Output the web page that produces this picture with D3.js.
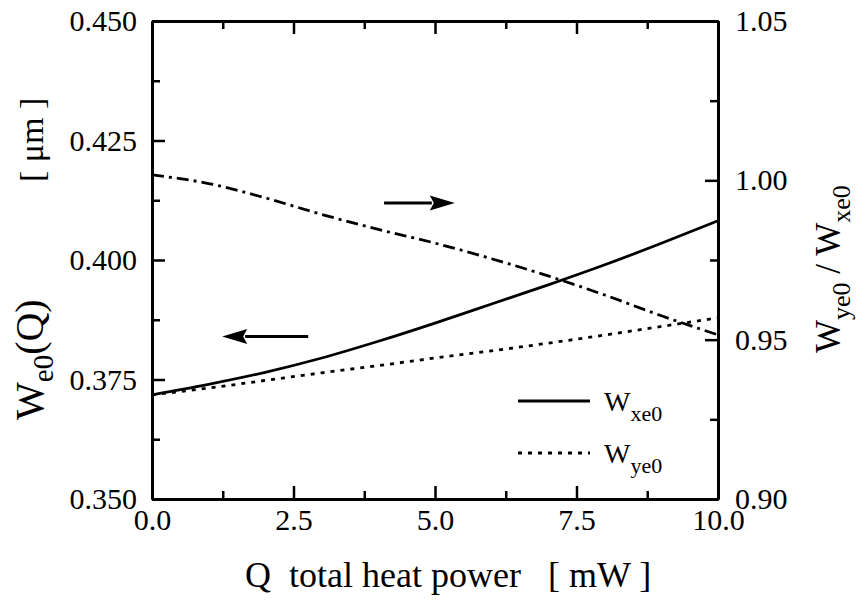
<!DOCTYPE html>
<html>
<head>
<meta charset="utf-8">
<script src="https://cdn.jsdelivr.net/npm/d3@7"></script>
<style>
  body { margin: 0; background: #fff; }
  svg text { fill: #000; }
  .axis path, .axis line { stroke: #000; }
  .axis path { stroke-width: 3; }
  .axis line { stroke-width: 2.5; }
</style>
</head>
<body>
<svg id="chart"></svg>
<script>
// values
const qValues = [0, 1, 2, 3, 4, 5, 6, 7, 8, 9, 10];
const wxe0 = [0.3718, 0.3740, 0.3765, 0.3795, 0.3830, 0.3868, 0.3908, 0.3948, 0.3990, 0.4035, 0.4082];
const wye0 = [0.3718, 0.3732, 0.3748, 0.3764, 0.3779, 0.3795, 0.3810, 0.3826, 0.3843, 0.3861, 0.3879];
const ratio = [1.0017, 0.9990, 0.9945, 0.9893, 0.9846, 0.9803, 0.9754, 0.9700, 0.9640, 0.9575, 0.9515];

const xMajor = [0, 2.5, 5, 7.5, 10];
const xMinor = [1.25, 3.75, 6.25, 8.75];
const yLeftMajor = [0.350, 0.375, 0.400, 0.425, 0.450];
const yLeftMinor = [0.3625, 0.3875, 0.4125, 0.4375];
const yRightMajor = [0.90, 0.95, 1.00, 1.05];
const yRightMinor = [0.925, 0.975, 1.025];

// arrows: [q start, q end, value on left axis]
const arrowRight = [4.1, 5.35, 0.4119];
const arrowLeft = [2.76, 1.24, 0.3840];

const serif = 'Tinos, "Liberation Serif", "Times New Roman", Times, "Nimbus Roman", FreeSerif, "Noto Serif", "DejaVu Serif", serif';

const config = {
  width: 856, height: 601,
  margin: { top: 21, right: 138, bottom: 102, left: 152 }
};

const width = config.width - config.margin.left - config.margin.right;
const height = config.height - config.margin.top - config.margin.bottom;

const svg = d3.select('#chart')
    .attr('width', config.width)
    .attr('height', config.height)
    .style('font-family', serif);

const chart = svg.append('g')
    .attr('transform', `translate(${config.margin.left},${config.margin.top})`);

const xScale = d3.scaleLinear().domain([0, 10]).range([0, width]);
const yLeft = d3.scaleLinear().domain([0.35, 0.45]).range([height, 0]);
const yRight = d3.scaleLinear().domain([0.90, 1.05]).range([height, 0]);

// axes: ticks point inward on all four sides
const tickFont = 30;

function styleTicks(g) {
  g.attr('font-family', null);
  g.selectAll('text').style('font-family', serif).style('font-size', tickFont + 'px');
}

chart.append('g').attr('class', 'axis')
    .attr('transform', `translate(0,${height})`)
    .call(d3.axisBottom(xScale).tickValues(xMajor).tickSize(-13).tickSizeOuter(0)
      .tickPadding(10).tickFormat(d3.format('.1f')))
    .call(styleTicks);
chart.append('g').attr('class', 'axis')
    .attr('transform', `translate(0,${height})`)
    .call(d3.axisBottom(xScale).tickValues(xMinor).tickSize(-8).tickSizeOuter(0).tickFormat(''));

chart.append('g').attr('class', 'axis')
    .call(d3.axisTop(xScale).tickValues(xMajor).tickSize(-13).tickSizeOuter(0).tickFormat(''));
chart.append('g').attr('class', 'axis')
    .call(d3.axisTop(xScale).tickValues(xMinor).tickSize(-8).tickSizeOuter(0).tickFormat(''));

chart.append('g').attr('class', 'axis')
    .call(d3.axisLeft(yLeft).tickValues(yLeftMajor).tickSize(-13).tickSizeOuter(0)
      .tickPadding(15).tickFormat(d3.format('.3f')))
    .call(styleTicks);
chart.append('g').attr('class', 'axis')
    .call(d3.axisLeft(yLeft).tickValues(yLeftMinor).tickSize(-8).tickSizeOuter(0).tickFormat(''));

chart.append('g').attr('class', 'axis')
    .attr('transform', `translate(${width},0)`)
    .call(d3.axisRight(yRight).tickValues(yRightMajor).tickSize(-13).tickSizeOuter(0)
      .tickPadding(17).tickFormat(d3.format('.2f')))
    .call(styleTicks);
chart.append('g').attr('class', 'axis')
    .attr('transform', `translate(${width},0)`)
    .call(d3.axisRight(yRight).tickValues(yRightMinor).tickSize(-8).tickSizeOuter(0).tickFormat(''));

// lines
const lineLeft = series => d3.line()
    .x((d, i) => xScale(qValues[i]))
    .y(d => yLeft(d))
    .curve(d3.curveMonotoneX)(series);

const lineRight = d3.line()
    .x((d, i) => xScale(qValues[i]))
    .y(d => yRight(d))
    .curve(d3.curveMonotoneX);

chart.append('path')
    .attr('d', lineLeft(wxe0))
    .attr('fill', 'none').attr('stroke', '#000').attr('stroke-width', 2.8);

chart.append('path')
    .attr('d', lineLeft(wye0))
    .attr('fill', 'none').attr('stroke', '#000').attr('stroke-width', 2.8)
    .attr('stroke-dasharray', '4,6');

chart.append('path')
    .attr('d', lineRight(ratio))
    .attr('fill', 'none').attr('stroke', '#000').attr('stroke-width', 2.8)
    .attr('stroke-dasharray', '12,5,3,5');

// arrows
function drawArrow(a) {
  const x0 = xScale(a[0]), x1 = xScale(a[1]), y = yLeft(a[2]);
  const dir = x1 > x0 ? 1 : -1;
  const headLen = 25, headHalf = 7.5;
  chart.append('line')
      .attr('x1', x0).attr('x2', x1 - dir * headLen + dir * 2)
      .attr('y1', y).attr('y2', y)
      .attr('stroke', '#000').attr('stroke-width', 3);
  chart.append('path')
      .attr('d', `M${x1},${y} L${x1 - dir * headLen},${y - headHalf} L${x1 - dir * headLen + dir * 4},${y} L${x1 - dir * headLen},${y + headHalf} Z`)
      .attr('fill', '#000');
}
drawArrow(arrowRight);
drawArrow(arrowLeft);

// legend
const legendItems = [
  { label: 'xe0', dash: null, y: 380 },
  { label: 'ye0', dash: '4,6', y: 432 }
];
legendItems.forEach(item => {
  chart.append('line')
      .attr('x1', 366).attr('x2', 438)
      .attr('y1', item.y).attr('y2', item.y)
      .attr('stroke', '#000').attr('stroke-width', 2.8)
      .attr('stroke-dasharray', item.dash);
  const t = chart.append('text')
      .attr('x', 452).attr('y', item.y + 10)
      .style('font-family', serif)
      .style('font-size', '28px');
  t.append('tspan').text('W');
  t.append('tspan').attr('dy', 10).style('font-size', '22px').text(item.label);
});

// axis titles
svg.append('text')
    .attr('x', 245).attr('y', 587)
    .style('font-family', serif)
    .style('font-size', '36px')
    .style('white-space', 'pre')
    .text('Q  total heat power   [ mW ]');

const lt = svg.append('text')
    .attr('transform', 'translate(43,420) rotate(-90)')
    .style('font-family', serif)
    .style('font-size', '40px');
lt.append('tspan').text('W');
lt.append('tspan').attr('dy', 10).style('font-size', '29px').text('e0');
lt.append('tspan').attr('dy', -10).text('(Q)');

svg.append('text')
    .attr('transform', 'translate(43,182) rotate(-90)')
    .style('font-family', serif)
    .style('font-size', '34px')
    .style('white-space', 'pre')
    .text('[ μm ]');

const rt = svg.append('text')
    .attr('transform', 'translate(840,353) rotate(-90)')
    .style('font-family', serif)
    .style('font-size', '35px')
    .style('white-space', 'pre');
rt.append('tspan').text('W');
rt.append('tspan').attr('dy', 10).style('font-size', '26px').text('ye0');
rt.append('tspan').attr('dy', -10).text(' / W');
rt.append('tspan').attr('dy', 10).style('font-size', '26px').text('xe0');
</script>
</body>
</html>
